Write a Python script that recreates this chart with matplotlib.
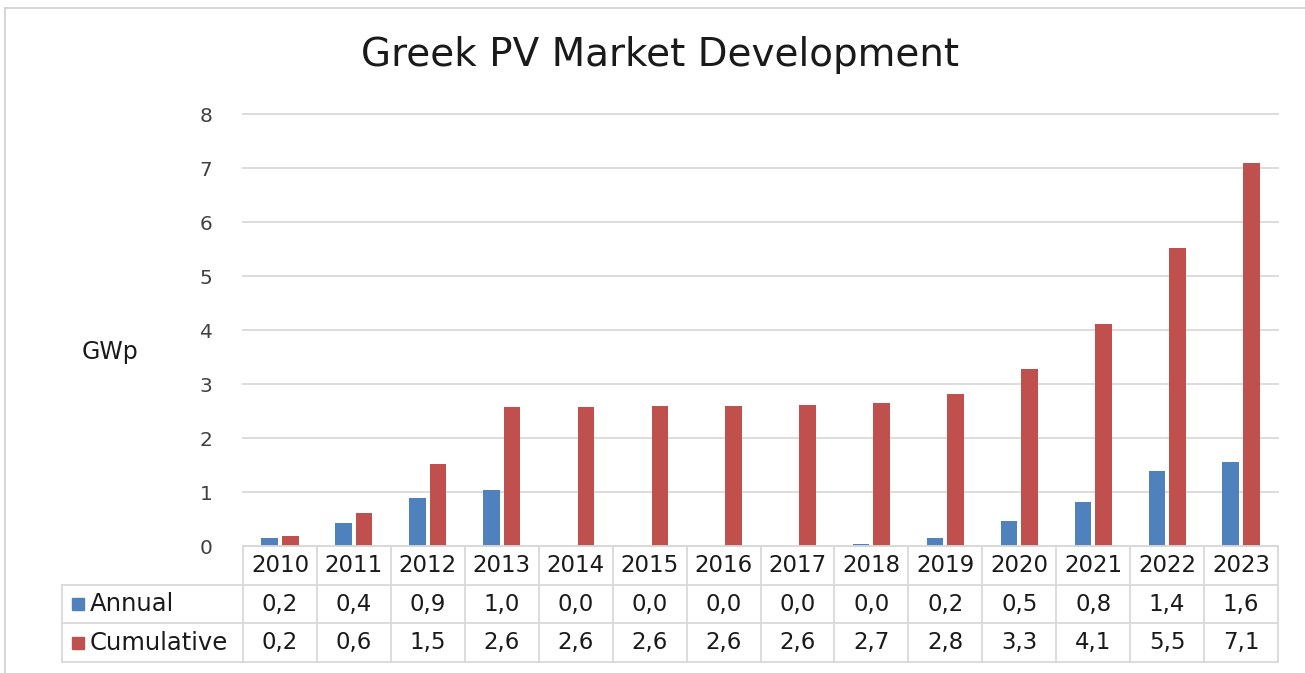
import matplotlib
matplotlib.use("Agg")
import matplotlib.pyplot as plt
from matplotlib.lines import Line2D
from matplotlib.patches import Rectangle

years = ["2010", "2011", "2012", "2013", "2014", "2015", "2016",
         "2017", "2018", "2019", "2020", "2021", "2022", "2023"]
annual = [0.14, 0.42, 0.89, 1.03, 0.0, 0.0, 0.0, 0.0, 0.03, 0.15, 0.46, 0.82, 1.39, 1.56]
cumulative = [0.19, 0.61, 1.52, 2.57, 2.58, 2.59, 2.60, 2.62, 2.65, 2.81, 3.28, 4.11, 5.51, 7.09]
annual_txt = ["0,2", "0,4", "0,9", "1,0", "0,0", "0,0", "0,0",
              "0,0", "0,0", "0,2", "0,5", "0,8", "1,4", "1,6"]
cumulative_txt = ["0,2", "0,6", "1,5", "2,6", "2,6", "2,6", "2,6",
                  "2,6", "2,7", "2,8", "3,3", "4,1", "5,5", "7,1"]
series = ["Annual", "Cumulative"]

blue = "#4f81bd"
red = "#c0504d"
grid_c = "#d9d9d9"
txt_c = "#1a1a1a"

W, H = 1305, 673
fig = plt.figure(figsize=(W / 100, H / 100), dpi=100)

# outer chart frame, only top and left edges show in the crop
fig.add_artist(Line2D([5 / W, 1], [1 - 8 / H, 1 - 8 / H], color="#d0d0d0", linewidth=1.2))
fig.add_artist(Line2D([5 / W, 5 / W], [0, 1 - 8 / H], color="#d0d0d0", linewidth=1.2))

left, right, top, base = 243, 1278, 114, 546
ax = fig.add_axes([left / W, 1 - base / H, (right - left) / W, (base - top) / H])

x = list(range(len(years)))
bw = 0.225
off = 0.139
ax.bar([i - off for i in x], annual, width=bw, color=blue, zorder=3)
ax.bar([i + off for i in x], cumulative, width=bw, color=red, zorder=3)

ax.set_xlim(-0.5, len(years) - 0.5)
ax.set_ylim(0, 8)
ax.set_yticks(range(0, 9))
ax.yaxis.grid(True, color=grid_c, linewidth=1.3, zorder=0)
for gl in ax.get_ygridlines():
    gl.set_clip_on(False)
ax.tick_params(axis="y", length=0, pad=22, labelsize=14.5, labelcolor="#404040")
ax.tick_params(axis="x", length=0, labelbottom=False)
for s in ax.spines.values():
    s.set_visible(False)

fig.text(110 / W, 1 - 352 / H, "GWp", fontsize=17, color=txt_c, ha="center", va="center")
fig.text(660 / W, 1 - 55 / H, "Greek PV Market Development", fontsize=28, color=txt_c,
         ha="center", va="center")

# data table below the plot
tax = fig.add_axes([left / W, 1 - 662 / H, (right - left) / W, (662 - base) / H], sharex=ax)
tax.set_ylim(3, 0)
tax.axis("off")
cat_px = (right - left) / len(years)
lab_left = -0.5 - (left - 62) / cat_px
lc = dict(color=grid_c, linewidth=1.3, clip_on=False)
n = len(years)
tax.plot([-0.5, n - 0.5], [0, 0], **lc)
for r in (1, 2, 3):
    tax.plot([lab_left, n - 0.5], [r, r], **lc)
for i in range(n + 1):
    tax.plot([i - 0.5, i - 0.5], [0, 3], **lc)
tax.plot([lab_left, lab_left], [1, 3], **lc)

for i in x:
    tax.text(i, 0.5, years[i], ha="center", va="center", fontsize=16.5, color=txt_c)
    tax.text(i, 1.5, annual_txt[i], ha="center", va="center", fontsize=16.5, color=txt_c)
    tax.text(i, 2.5, cumulative_txt[i], ha="center", va="center", fontsize=16.5, color=txt_c)

for r, (name, col) in enumerate(zip(series, [blue, red])):
    tax.add_patch(Rectangle((lab_left + 0.135, 1.5 + r - 0.15), 0.165, 0.31, color=col, clip_on=False))
    tax.text(lab_left + 0.37, 1.5 + r, name, ha="left", va="center", fontsize=17.5, color=txt_c)

fig.savefig("out.png", dpi=100)
